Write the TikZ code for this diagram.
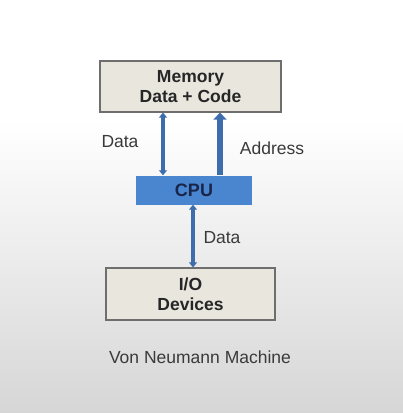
\documentclass[tikz,border=0pt]{standalone}
\usepackage{fontspec}
\setmainfont{Liberation Sans}
\usetikzlibrary{arrows.meta}
\definecolor{boxfill}{HTML}{E9E6DE}
\definecolor{boxline}{HTML}{6E6E6E}
\definecolor{cpublue}{HTML}{4A86CF}
\definecolor{cputext}{HTML}{17264A}
\definecolor{arrowblue}{HTML}{3E6DAE}
\definecolor{labeltext}{HTML}{3A3A3A}
\definecolor{bggrey}{HTML}{D6D6D6}
\tikzset{
  greybox/.style={draw=boxline, line width=1.2pt, fill=boxfill, inner sep=0pt,
    align=center, font=\fontsize{17.5}{20}\selectfont\bfseries, text=black!85},
  cpubox/.style={fill=cpublue, inner sep=0pt, font=\fontsize{18}{20}\selectfont\bfseries, text=cputext},
  lbl/.style={font=\fontsize{17.5}{20}\selectfont, text=labeltext},
  databus/.style={draw=arrowblue, line width=3.5pt, {Triangle[width=8pt,length=5pt]}-{Triangle[width=8pt,length=5pt]}, shorten <=0pt, shorten >=0pt},
  addrbus/.style={draw=arrowblue, line width=6pt, -{Triangle[width=13pt,length=7pt]}}
}
\begin{document}
\begin{tikzpicture}[x=1pt,y=-1pt]
  \useasboundingbox (0,0) rectangle (403,413);
  \fill[white] (0,0) rectangle (403,413);
  \shade[top color=white, bottom color=bggrey] (0,120) rectangle (403,413);

  \node[greybox, minimum width=181pt, minimum height=51pt] (mem) at (190.5,86.5) {Memory\\Data + Code};
  \node[cpubox, minimum width=116pt, minimum height=29pt] (cpu) at (194,190) {CPU};
  \node[greybox, minimum width=169pt, minimum height=52pt] (io) at (190.5,294) {I/O\\Devices};

  \coordinate (dx) at (163,0);
  \coordinate (ax) at (220,0);
  \coordinate (ix) at (193,0);

  \draw[databus] (cpu.north -| dx) -- (mem.south -| dx);
  \draw[addrbus] (cpu.north -| ax) -- (mem.south -| ax);
  \draw[databus] (io.north -| ix) -- (cpu.south -| ix);

  \node[lbl] (ldata1) at (120,142) {Data};
  \node[lbl] (laddr) at (272,148) {Address};
  \node[lbl] (ldata2) at (222,238) {Data};
  \node[lbl] (title) at (200,357) {Von Neumann Machine};
\end{tikzpicture}
\end{document}
